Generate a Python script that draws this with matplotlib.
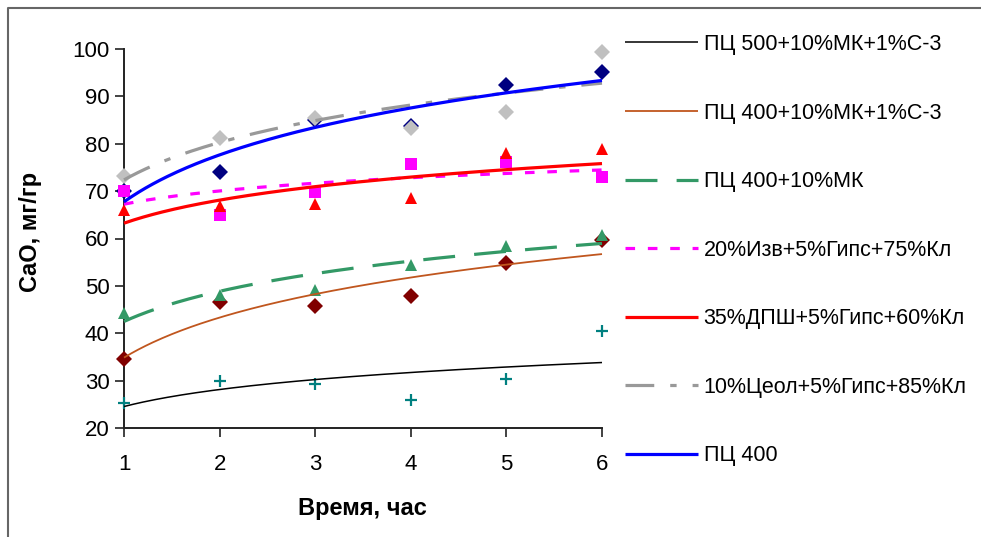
import matplotlib
matplotlib.use("Agg")
import matplotlib.pyplot as plt
import numpy as np
from matplotlib.lines import Line2D

plt.rcParams['font.family'] = ['Liberation Sans', 'DejaVu Sans']

# data (CaO vs time)
time_h = np.array([1, 2, 3, 4, 5, 6])
pc500_mk_c3 = [25.3, 30.0, 29.3, 26.0, 30.3, 40.4]
pc400_mk_c3 = [34.6, 46.7, 45.8, 47.8, 54.8, 59.7]
pc400_mk = [44.3, 48.1, 49.2, 54.5, 58.5, 60.8]
izv_gips_kl = [70.1, 65.0, 69.9, 75.8, 76.2, 73.0]
dpsh_gips_kl = [66.1, 66.8, 67.3, 68.5, 78.0, 78.9]
ceol_gips_kl = [73.1, 81.2, 85.4, 83.3, 86.8, 99.4]
pc400 = [70.0, 74.1, 85.0, 83.8, 92.4, 95.2]

labels = ["ПЦ 500+10%МК+1%С-3", "ПЦ 400+10%МК+1%С-3", "ПЦ 400+10%МК",
          "20%Изв+5%Гипс+75%Кл", "35%ДПШ+5%Гипс+60%Кл",
          "10%Цеол+5%Гипс+85%Кл", "ПЦ 400"]
y_ticks = [20, 30, 40, 50, 60, 70, 80, 90, 100]

fig = plt.figure(figsize=(9.81, 5.37), dpi=100)
ax = fig.add_axes([124 / 981, 1 - 428 / 537, 478 / 981, 379 / 537])

# (data, marker, marker color, size, line color, lw, dashes)
series = [
    (pc500_mk_c3, '+', '#008080', 9, '#000000', 1.1, None),
    (pc400_mk_c3, 'D', '#800000', 8.3, '#c0561e', 1.3, None),
    (pc400_mk, '^', '#339966', 9, '#339966', 2.3, (10, 6)),
    (izv_gips_kl, 's', '#ff00ff', 8.3, '#ff00ff', 2.3, (3, 4)),
    (dpsh_gips_kl, '^', '#ff0000', 9, '#ff0000', 2.3, None),
    (ceol_gips_kl, 'D', '#c0c0c0', 8.3, '#999999', 2.3, (9, 5, 2, 5)),
    (pc400, 'D', '#000080', 8.3, '#0000ff', 2.3, None),
]
draw_order = [6, 0, 1, 2, 3, 4, 5]

for i in draw_order:
    vals, mk, mc, ms, lc, lw, dash = series[i]
    mew = 1.6 if mk == '+' else 0
    ax.plot(time_h, vals, ls='none', marker=mk, color=mc, ms=ms, mew=mew,
            clip_on=False, zorder=3)

# logarithmic trendlines, as in the original spreadsheet chart
xs = np.linspace(1, 6, 200)
handles = []
for vals, mk, mc, ms, lc, lw, dash in series:
    k, b = np.polyfit(np.log(time_h), vals, 1)
    ln, = ax.plot(xs, k * np.log(xs) + b, color=lc, lw=lw, zorder=4,
                  solid_capstyle='butt', clip_on=False)
    if dash:
        ln.set_dashes(dash)
    handles.append(ln)

ax.set_xlim(1, 6)
ax.set_ylim(20, 100)
ax.set_xticks(time_h)
ax.set_yticks(y_ticks)
for s in ['top', 'right']:
    ax.spines[s].set_visible(False)
for s in ['left', 'bottom']:
    ax.spines[s].set_linewidth(1.4)
    ax.spines[s].set_color('#222222')
ax.tick_params(axis='y', length=6.5, width=1.2, pad=4, labelsize=16, color='#222222')
ax.tick_params(axis='x', length=6.5, width=1.2, pad=12, labelsize=16, color='#222222')

fig.text(30 / 981, 1 - 232 / 537, "CaO, мг/гр", rotation=90, ha='center', va='center',
         fontsize=17, fontweight='bold')
fig.text(362 / 981, 1 - 508 / 537, "Время, час", ha='center', va='center',
         fontsize=17, fontweight='bold')

fig.legend(handles, labels, loc='upper left', bbox_to_anchor=(625 / 981, 1 - 34 / 537),
           frameon=False, fontsize=15.5, handlelength=3.4, handletextpad=0.25,
           labelspacing=2.21, borderpad=0, borderaxespad=0)

# chart border (top and left edges are visible in the crop)
fig.add_artist(Line2D([7.5 / 981, 7.5 / 981, 1.0], [0, 1 - 7.5 / 537, 1 - 7.5 / 537],
                      transform=fig.transFigure, color='#666666', lw=1.5))

fig.savefig("out.png", dpi=100)
